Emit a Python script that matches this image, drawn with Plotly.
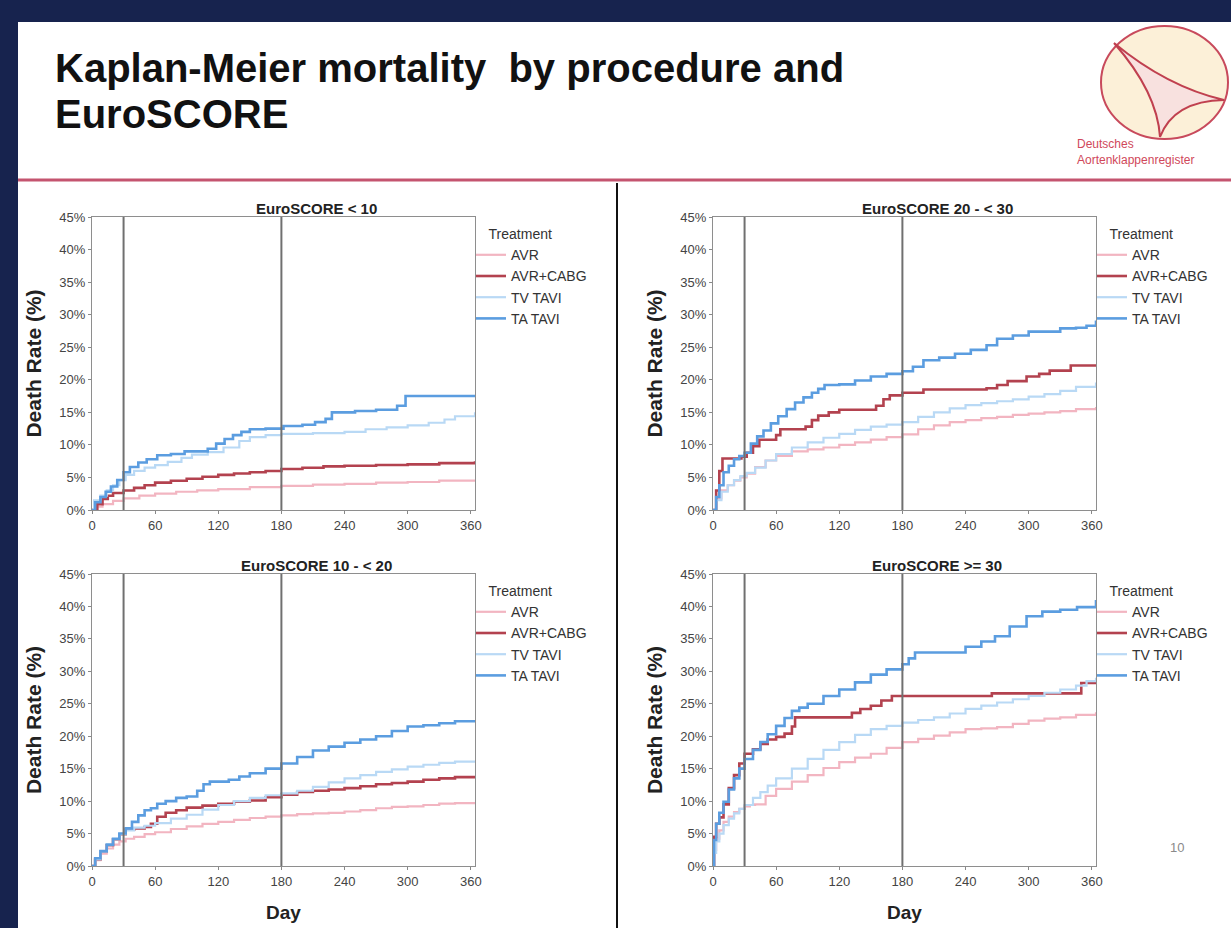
import plotly.graph_objects as go
from plotly.subplots import make_subplots

W, H = 1231, 928
FONT = "Liberation Sans, Arial, sans-serif"

TREATMENTS = ["AVR", "AVR+CABG", "TV TAVI", "TA TAVI"]
COLORS = ["#f2b5c1", "#b3424f", "#b9d9f5", "#5b9de0"]
WIDTHS = [2.2, 2.6, 2.2, 2.6]

PANEL_TITLES = ["EuroSCORE < 10", "EuroSCORE 20 - < 30", "EuroSCORE 10 - < 20", "EuroSCORE >= 30"]
X_TICKS = [0, 60, 120, 180, 240, 300, 360]
Y_TICKS = [0, 5, 10, 15, 20, 25, 30, 35, 40, 45]
Y_TICK_TEXT = [f"{v}%" for v in Y_TICKS]
REF_DAYS = [30, 180]

# ---- EuroSCORE < 10 ----
lt10_avr_days = [0, 5, 10, 20, 30, 45, 60, 80, 100, 120, 150, 180, 210, 240, 270, 300, 330, 364]
lt10_avr_vals = [0, 0.5, 0.9, 1.4, 1.8, 2.2, 2.5, 2.8, 3.0, 3.2, 3.5, 3.7, 3.9, 4.0, 4.2, 4.3, 4.5, 4.6]
lt10_cabg_days = [0, 5, 10, 15, 20, 30, 40, 50, 60, 75, 90, 105, 120, 135, 150, 165, 180, 200, 220, 240, 270, 300, 330, 364]
lt10_cabg_vals = [0, 0.9, 1.7, 2.2, 2.6, 3.0, 3.4, 3.8, 4.2, 4.5, 4.8, 5.1, 5.4, 5.6, 5.8, 6.0, 6.3, 6.5, 6.7, 6.8, 6.9, 7.0, 7.2, 7.5]
lt10_tv_days = [0, 2, 8, 14, 20, 26, 32, 40, 50, 60, 72, 85, 95, 110, 125, 140, 150, 165, 180, 210, 240, 260, 280, 300, 320, 335, 345, 364]
lt10_tv_vals = [0, 1.5, 2.2, 3.0, 3.8, 4.6, 5.4, 6.0, 6.5, 6.9, 7.4, 8.0, 8.5, 8.9, 9.6, 10.6, 11.2, 11.5, 11.7, 11.8, 12.0, 12.4, 12.7, 13.0, 13.4, 13.9, 14.4, 15.0]
lt10_ta_days = [0, 3, 8, 13, 18, 24, 30, 36, 44, 52, 62, 75, 88, 100, 110, 118, 126, 134, 142, 150, 165, 182, 200, 212, 222, 228, 250, 270, 290, 298, 364]
lt10_ta_vals = [0, 1.2, 2.0, 2.8, 3.6, 4.6, 5.8, 6.6, 7.3, 7.8, 8.4, 8.6, 9.0, 9.0, 9.4, 10.2, 10.9, 11.5, 12.0, 12.4, 12.5, 12.9, 13.1, 13.5, 14.0, 15.0, 15.2, 15.4, 16.0, 17.5, 17.5]

# ---- EuroSCORE 20 - < 30 ----
e20_avr_days = [0, 3, 8, 14, 20, 26, 32, 40, 50, 60, 75, 90, 105, 120, 135, 150, 165, 180, 195, 210, 225, 240, 255, 270, 285, 300, 315, 330, 345, 364]
e20_avr_vals = [0, 1.8, 3.0, 3.8, 4.5, 5.0, 5.6, 6.6, 7.6, 8.3, 9.0, 9.3, 9.6, 10.0, 10.4, 10.8, 11.2, 11.6, 12.4, 13.0, 13.5, 13.8, 14.1, 14.3, 14.6, 14.8, 15.0, 15.2, 15.5, 15.8]
e20_cabg_days = [0, 3, 6, 9, 27, 32, 38, 44, 60, 64, 88, 94, 100, 110, 120, 155, 162, 168, 180, 200, 260, 270, 280, 298, 310, 320, 340, 364]
e20_cabg_vals = [0, 3.0, 6.0, 7.9, 8.2, 8.8, 9.8, 10.8, 11.5, 12.4, 12.8, 13.8, 14.5, 15.0, 15.4, 16.0, 17.0, 17.6, 18.0, 18.5, 18.7, 19.2, 19.8, 20.5, 20.9, 21.4, 22.2, 22.2]
e20_tv_days = [0, 3, 8, 14, 20, 26, 32, 40, 50, 60, 75, 90, 105, 120, 135, 150, 165, 180, 195, 210, 225, 240, 255, 270, 285, 300, 315, 330, 345, 364]
e20_tv_vals = [0, 1.5, 2.8, 3.8, 4.6, 5.2, 5.7, 6.5, 7.6, 8.6, 9.6, 10.4, 11.1, 11.7, 12.3, 12.8, 13.1, 13.5, 14.3, 15.0, 15.6, 16.1, 16.4, 16.7, 17.0, 17.4, 17.8, 18.3, 18.9, 19.6]
e20_ta_days = [0, 3, 6, 10, 15, 20, 25, 30, 36, 42, 48, 55, 62, 70, 78, 86, 94, 100, 106, 120, 135, 150, 165, 180, 190, 200, 215, 230, 245, 260, 270, 285, 300, 315, 330, 345, 355, 364]
e20_ta_vals = [0, 2.0, 3.8, 5.8, 6.8, 7.8, 8.3, 8.8, 10.2, 11.3, 12.2, 13.3, 14.4, 15.5, 16.5, 17.3, 18.0, 18.6, 19.2, 19.3, 19.9, 20.5, 20.9, 21.3, 22.0, 23.0, 23.4, 24.0, 24.6, 25.3, 26.3, 26.8, 27.4, 27.4, 27.9, 28.0, 28.3, 29.1]

# ---- EuroSCORE 10 - < 20 ----
e10_avr_days = [0, 3, 8, 14, 20, 26, 32, 40, 50, 60, 75, 90, 105, 120, 135, 150, 165, 180, 195, 210, 225, 240, 255, 270, 285, 300, 315, 330, 345, 364]
e10_avr_vals = [0, 0.9, 1.9, 2.7, 3.3, 3.8, 4.2, 4.5, 4.9, 5.2, 5.7, 6.1, 6.5, 6.8, 7.1, 7.4, 7.6, 7.8, 8.0, 8.1, 8.2, 8.4, 8.6, 8.9, 9.1, 9.2, 9.4, 9.6, 9.7, 9.8]
e10_cabg_days = [0, 3, 8, 14, 20, 26, 32, 40, 50, 56, 62, 70, 80, 90, 105, 120, 135, 150, 165, 180, 195, 210, 225, 240, 255, 270, 285, 300, 315, 330, 345, 364]
e10_cabg_vals = [0, 1.0, 2.2, 3.2, 4.1, 4.9, 5.6, 5.8, 6.0, 6.5, 7.6, 8.2, 8.6, 9.0, 9.3, 9.6, 9.9, 10.1, 10.6, 11.0, 11.4, 11.6, 11.8, 12.0, 12.3, 12.6, 12.8, 13.0, 13.3, 13.5, 13.7, 13.9]
e10_tv_days = [0, 3, 8, 14, 20, 26, 32, 40, 50, 60, 75, 90, 105, 120, 135, 150, 165, 180, 195, 210, 225, 240, 255, 270, 285, 300, 315, 330, 345, 364]
e10_tv_vals = [0, 1.0, 2.2, 3.2, 4.1, 4.9, 5.5, 5.9, 6.2, 6.6, 7.3, 7.9, 8.7, 9.4, 10.0, 10.5, 10.9, 11.2, 11.6, 12.2, 12.9, 13.5, 14.0, 14.5, 14.9, 15.3, 15.6, 15.9, 16.1, 16.2]
e10_ta_days = [0, 3, 8, 14, 20, 26, 32, 38, 44, 50, 56, 62, 70, 80, 90, 100, 106, 112, 130, 140, 150, 165, 180, 195, 210, 225, 240, 255, 270, 285, 300, 315, 330, 345, 364]
e10_ta_vals = [0, 1.2, 2.3, 3.3, 4.2, 5.0, 5.8, 6.8, 7.8, 8.6, 8.9, 9.6, 10.0, 10.5, 10.7, 11.6, 12.6, 13.0, 13.3, 13.8, 14.3, 15.0, 15.8, 16.8, 17.8, 18.4, 19.0, 19.5, 20.0, 20.8, 21.5, 21.7, 22.0, 22.3, 22.5]

# ---- EuroSCORE >= 30 ----
e30_avr_days = [0, 1, 3, 6, 10, 15, 20, 25, 30, 35, 40, 50, 60, 75, 90, 105, 120, 135, 150, 165, 180, 195, 210, 225, 240, 255, 270, 285, 300, 315, 330, 345, 364]
e30_avr_vals = [0, 2.5, 4.2, 5.5, 6.8, 7.6, 8.3, 8.8, 9.2, 9.4, 9.5, 10.8, 11.9, 13.0, 14.0, 15.1, 16.0, 16.7, 17.3, 18.2, 19.1, 19.6, 20.1, 20.6, 21.1, 21.2, 21.4, 21.9, 22.4, 22.7, 22.9, 23.3, 23.7]
e30_cabg_days = [0, 1, 3, 6, 10, 15, 20, 25, 30, 38, 45, 52, 60, 68, 75, 78, 132, 140, 150, 160, 170, 260, 265, 345, 350, 364]
e30_cabg_vals = [0, 4.5, 6.5, 7.5, 9.5, 12.0, 14.0, 15.8, 17.3, 18.0, 18.8, 19.5, 19.9, 20.4, 21.5, 22.9, 23.6, 24.2, 24.7, 25.5, 26.2, 26.2, 26.6, 26.6, 28.2, 28.2]
e30_tv_days = [0, 1, 3, 6, 10, 15, 20, 25, 30, 38, 45, 52, 60, 75, 90, 105, 120, 135, 150, 165, 180, 195, 210, 225, 240, 255, 270, 285, 300, 315, 330, 345, 355, 364]
e30_tv_vals = [0, 2.0, 3.8, 5.0, 6.3, 7.3, 8.1, 8.8, 9.4, 10.5, 11.4, 12.4, 13.5, 15.0, 16.5, 17.9, 19.1, 20.2, 21.1, 21.6, 22.1, 22.5, 22.9, 23.5, 24.2, 24.7, 25.2, 25.7, 26.2, 26.7, 27.2, 27.8, 28.5, 29.0]
e30_ta_days = [0, 1, 3, 6, 10, 15, 20, 25, 30, 38, 45, 52, 60, 68, 75, 82, 90, 105, 120, 135, 150, 165, 180, 186, 192, 225, 240, 255, 268, 282, 298, 313, 330, 346, 364]
e30_ta_vals = [0, 4.0, 6.5, 8.2, 9.9, 11.8, 13.5, 15.0, 16.5, 17.9, 19.1, 20.3, 21.6, 22.8, 23.9, 24.4, 25.0, 26.2, 27.2, 28.3, 29.5, 30.3, 31.1, 32.0, 32.9, 32.9, 33.8, 34.6, 35.4, 36.9, 38.5, 39.2, 39.5, 39.9, 41.0]

PANELS = [
    [(lt10_avr_days, lt10_avr_vals), (lt10_cabg_days, lt10_cabg_vals), (lt10_tv_days, lt10_tv_vals), (lt10_ta_days, lt10_ta_vals)],
    [(e20_avr_days, e20_avr_vals), (e20_cabg_days, e20_cabg_vals), (e20_tv_days, e20_tv_vals), (e20_ta_days, e20_ta_vals)],
    [(e10_avr_days, e10_avr_vals), (e10_cabg_days, e10_cabg_vals), (e10_tv_days, e10_tv_vals), (e10_ta_days, e10_ta_vals)],
    [(e30_avr_days, e30_avr_vals), (e30_cabg_days, e30_cabg_vals), (e30_tv_days, e30_tv_vals), (e30_ta_days, e30_ta_vals)],
]

# pixel boxes of the four plot areas: (left, right, top, bottom)
BOXES = [(92, 475, 217, 510), (713, 1096, 217, 510), (92, 475, 574, 866), (713, 1096, 574, 866)]
POS = [(1, 1), (1, 2), (2, 1), (2, 2)]
LEGEND_NAMES = ["legend", "legend2", "legend3", "legend4"]


def px(x):
    return x / W


def py(y):
    return 1 - y / H


fig = make_subplots(rows=2, cols=2)

for p, series in enumerate(PANELS):
    r, c = POS[p]
    for k, (d, v) in enumerate(series):
        fig.add_trace(
            go.Scatter(
                x=d, y=v, mode="lines", name=TREATMENTS[k],
                line=dict(color=COLORS[k], width=WIDTHS[k], shape="hv"),
                legend=LEGEND_NAMES[p], showlegend=True,
            ),
            row=r, col=c,
        )

shapes = []
annotations = []

# slide background
shapes.append(dict(type="rect", xref="paper", yref="paper", x0=px(18), x1=1.0, y0=0, y1=py(22),
                   fillcolor="white", line=dict(width=0), layer="below"))
# red separator
shapes.append(dict(type="line", xref="paper", yref="paper", x0=px(18), x1=1.0, y0=py(180), y1=py(180),
                   line=dict(color="#c4546f", width=3)))
# vertical divider
shapes.append(dict(type="line", xref="paper", yref="paper", x0=px(617), x1=px(617), y0=0, y1=py(183),
                   line=dict(color="#111111", width=2)))

# logo
shapes.append(dict(type="circle", xref="paper", yref="paper", x0=px(1101), x1=px(1228), y0=py(139), y1=py(26),
                   fillcolor="#fcf0d8", line=dict(color="#c84a5c", width=2)))
A, B, C = (1114, 43), (1224, 100), (1160, 137)
G = ((A[0] + B[0] + C[0]) / 3, (A[1] + B[1] + C[1]) / 3)


def ctrl(P, Q, f=0.7):
    m = ((P[0] + Q[0]) / 2, (P[1] + Q[1]) / 2)
    return (m[0] + f * (G[0] - m[0]), m[1] + f * (G[1] - m[1]))


def pt(P):
    return f"{px(P[0]):.5f},{py(P[1]):.5f}"


path = (f"M {pt(A)} Q {pt(ctrl(A, B))} {pt(B)} Q {pt(ctrl(B, C))} {pt(C)} "
        f"Q {pt(ctrl(C, A))} {pt(A)} Z")
shapes.append(dict(type="path", xref="paper", yref="paper", path=path,
                   fillcolor="rgba(247,222,224,0.85)", line=dict(color="#c0404f", width=2)))

annotations.append(dict(text="Deutsches<br>Aortenklappenregister", xref="paper", yref="paper",
                        x=px(1075), y=py(135), xanchor="left", yanchor="top", align="left", showarrow=False,
                        font=dict(family=FONT, size=12, color="#d0485a")))

# title (two lines)
annotations.append(dict(text="Kaplan-Meier mortality  by procedure and", xref="paper", yref="paper",
                        x=px(53), y=py(68), xanchor="left", yanchor="middle", showarrow=False,
                        font=dict(family=FONT, size=40, color="#111111", weight="bold")))
annotations.append(dict(text="EuroSCORE", xref="paper", yref="paper",
                        x=px(53), y=py(114), xanchor="left", yanchor="middle", showarrow=False,
                        font=dict(family=FONT, size=40, color="#111111", weight="bold")))

# page number
annotations.append(dict(text="10", xref="paper", yref="paper", x=px(1186), y=py(857), showarrow=False,
                        font=dict(family=FONT, size=13, color="#8a8a8a")))

axis_ids = ["", "2", "3", "4"]
layout_axes = {}
for p in range(4):
    L, R, T, Bm = BOXES[p]
    sid = axis_ids[p]
    xa = dict(domain=[px(L), px(R)], range=[0, 364], tickvals=X_TICKS, ticks="outside", ticklen=3,
              tickcolor="#888", showline=True, linecolor="#8e8e8e", linewidth=1, mirror=True,
              showgrid=False, zeroline=False, automargin=False,
              tickfont=dict(family=FONT, size=13, color="#444"))
    if p >= 2:
        xa["title"] = dict(text="Day", font=dict(family=FONT, size=19, color="#222", weight="bold"), standoff=18)
    ya = dict(domain=[py(Bm), py(T)], range=[0, 45], tickvals=Y_TICKS, ticktext=Y_TICK_TEXT, ticks="outside",
              ticklen=3, tickcolor="#888", showline=True, linecolor="#8e8e8e", linewidth=1, mirror=True,
              showgrid=False, zeroline=False, automargin=False,
              tickfont=dict(family=FONT, size=13, color="#444"),
              title=dict(text="Death Rate (%)", font=dict(family=FONT, size=21, color="#222", weight="bold"),
                         standoff=12))
    layout_axes["xaxis" + sid] = xa
    layout_axes["yaxis" + sid] = ya

    for d in REF_DAYS:
        shapes.append(dict(type="line", xref="x" + sid, yref="y" + sid + " domain", x0=d, x1=d, y0=0, y1=1,
                           line=dict(color="#707070", width=2)))

    annotations.append(dict(text=PANEL_TITLES[p], xref="paper", yref="paper", x=px(L + 224), y=py(T - 9),
                            xanchor="center", yanchor="middle", showarrow=False,
                            font=dict(family=FONT, size=15, color="#222", weight="bold")))

    layout_axes[LEGEND_NAMES[p]] = dict(
        x=px(R - 4), y=py(T + 4), xanchor="left", yanchor="top",
        bgcolor="rgba(0,0,0,0)", borderwidth=0,
        title=dict(text="\u00a0\u00a0\u00a0\u00a0Treatment", font=dict(family=FONT, size=14, color="#333")),
        font=dict(family=FONT, size=14, color="#333"),
        tracegroupgap=0, itemwidth=30,
    )

fig.update_layout(
    width=W, height=H, margin=dict(l=0, r=0, t=0, b=0, pad=0, autoexpand=False),
    paper_bgcolor="#17234e", plot_bgcolor="#f0f0f0",
    shapes=shapes, annotations=annotations, **layout_axes,
)

fig.write_html(
    "out.html",
    config={"displayModeBar": False},
    post_script="document.body.style.margin='0';document.body.style.overflow='hidden';",
)
